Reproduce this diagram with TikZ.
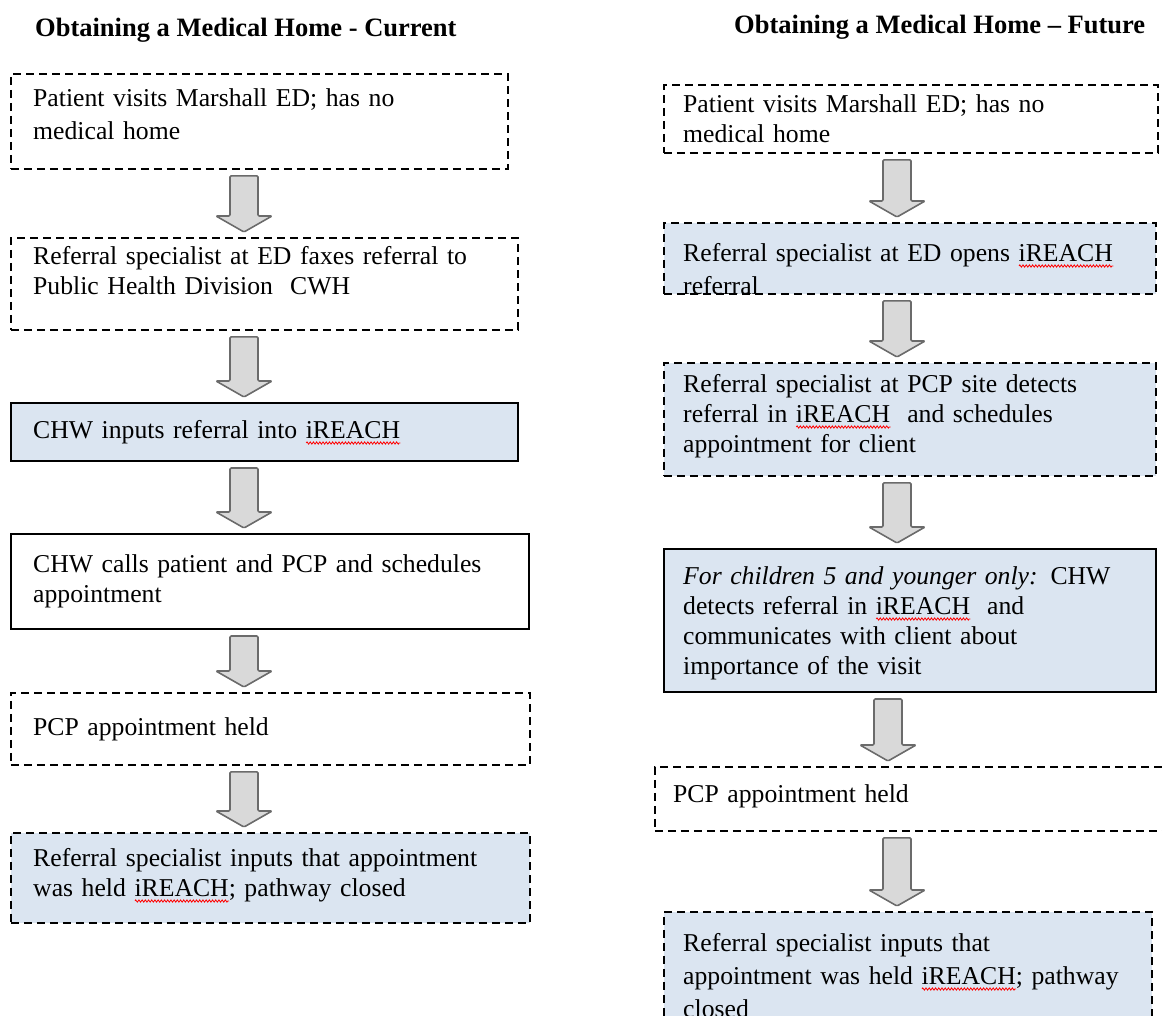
\documentclass[tikz,border=0pt]{standalone}
\usepackage{fontspec}
\setmainfont{Liberation Serif}
\usetikzlibrary{calc,decorations.pathmorphing}
\definecolor{boxblue}{HTML}{DBE5F1}
\definecolor{arrowgray}{HTML}{D9D9D9}
\definecolor{arrowedge}{HTML}{6B6B6B}
\newsavebox{\spellbox}
\newlength{\spellwd}
\newcommand{\spellmark}[1]{\sbox{\spellbox}{#1}\setlength{\spellwd}{\wd\spellbox}%
  \rlap{\tikz[baseline=0pt,x=1pt,y=1pt]\draw[red, solid, line width=0.8pt, decorate,
    decoration={zigzag, amplitude=1.1pt, segment length=3.2pt}] (0,-5) -- (\spellwd,-5);}%
  \usebox{\spellbox}}
\tikzset{
  boxframe/.style={anchor=north west, inner sep=0pt, line width=1.4pt},
  dashbox/.style={boxframe, draw, line width=1.8pt, dash pattern=on 8pt off 5pt},
  solidbox/.style={boxframe, draw, line width=2pt},
  steptext/.style={anchor=base west, inner sep=0pt, text width=490pt, align=left, font=\fontsize{25.7}{30}\selectfont},
  heading/.style={anchor=base west, inner sep=0pt, font=\fontsize{26.5}{30}\selectfont\bfseries},
  blockarrow/.style={draw=arrowedge, line width=1.6pt, fill=arrowgray, rounded corners=1.2pt}
}
\begin{document}
\begin{tikzpicture}[x=1pt,y=-1pt]
\useasboundingbox (0,0) rectangle (1162,1015);
\clip (0,0) rectangle (1162,1015);
% titles
\node[heading] (curtitle) at (35,36) {Obtaining a Medical Home - Current};
\node[heading] (futtitle) at (734,33) {Obtaining a Medical Home -- Future};
% current pathway
\node[dashbox, minimum width=497pt, minimum height=95pt] (c1) at (10,73) {};
\node[dashbox, minimum width=507pt, minimum height=92pt] (c2) at (10,237) {};
\node[solidbox, fill=boxblue, minimum width=507pt, minimum height=58pt] (c3) at (10,402) {};
\node[solidbox, minimum width=518pt, minimum height=95pt] (c4) at (10,533) {};
\node[dashbox, minimum width=519pt, minimum height=72pt] (c5) at (10,692) {};
\node[dashbox, fill=boxblue, minimum width=519pt, minimum height=90pt] (c6) at (10,832) {};
\node[steptext, font=\fontsize{25.7}{33}\selectfont] (c1t) at (33,106) {Patient visits Marshall ED; has no\\ medical home};
\node[steptext] (c2t) at (33,264) {Referral specialist at ED faxes referral to\\ Public Health Division\ \ CWH};
\node[steptext] (c3t) at (33,438) {CHW inputs referral into \spellmark{iREACH}};
\node[steptext] (c4t) at (33,572) {CHW calls patient and PCP and schedules\\ appointment};
\node[steptext] (c5t) at (33,735) {PCP appointment held};
\node[steptext] (c6t) at (33,866) {Referral specialist inputs that appointment\\ was held \spellmark{iREACH}; pathway closed};
% future pathway
\node[dashbox, minimum width=494pt, minimum height=68pt] (f1) at (663,84) {};
\node[dashbox, fill=boxblue, minimum width=492pt, minimum height=71pt] (f2) at (663,222) {};
\node[dashbox, fill=boxblue, minimum width=492pt, minimum height=113pt] (f3) at (663,362) {};
\node[solidbox, fill=boxblue, minimum width=492pt, minimum height=143pt] (f4) at (663,548) {};
\node[dashbox, minimum width=540pt, minimum height=64pt] (f5) at (654,766) {};
\node[dashbox, fill=boxblue, minimum width=488pt, minimum height=150pt] (f6) at (663,911) {};
\node[steptext] (f1t) at (683,112) {Patient visits Marshall ED; has no\\ medical home};
\begin{scope}
\clip (f2.north west) rectangle (f2.south east);
\node[steptext, font=\fontsize{25.7}{33}\selectfont] (f2t) at (683,261) {Referral specialist at ED opens \spellmark{iREACH}\\ referral};
\end{scope}
\node[steptext] (f3t) at (683,392) {Referral specialist at PCP site detects\\ referral in \spellmark{iREACH}\ \ and schedules\\ appointment for client};
\node[steptext] (f4t) at (683,584) {\textit{For children 5 and younger only:} CHW\\ detects referral in \spellmark{iREACH}\ \ and\\ communicates with client about\\ importance of the visit};
\node[steptext] (f5t) at (673,802) {PCP appointment held};
\node[steptext, font=\fontsize{25.7}{33}\selectfont] (f6t) at (683,951) {Referral specialist inputs that\\ appointment was held \spellmark{iREACH}; pathway\\ closed};
% block arrows
\foreach \a/\b in {c1/c2,c2/c3,c3/c4,c4/c5,c5/c6,f1/f2,f2/f3,f3/f4,f4/f5,f5/f6}
\draw[blockarrow] let \p1=(\b.north west), \p2=(\a.south), \p3=(\b.north) in
  (\x1+220pt,\y2-6pt) -- (\x1+248pt,\y2-6pt) -- (\x1+248pt,\y3+21pt) -- (\x1+262pt,\y3+21pt)
  -- (\x1+234pt,\y3+5pt) -- (\x1+206pt,\y3+21pt) -- (\x1+220pt,\y3+21pt) -- cycle;
\end{tikzpicture}
\end{document}
